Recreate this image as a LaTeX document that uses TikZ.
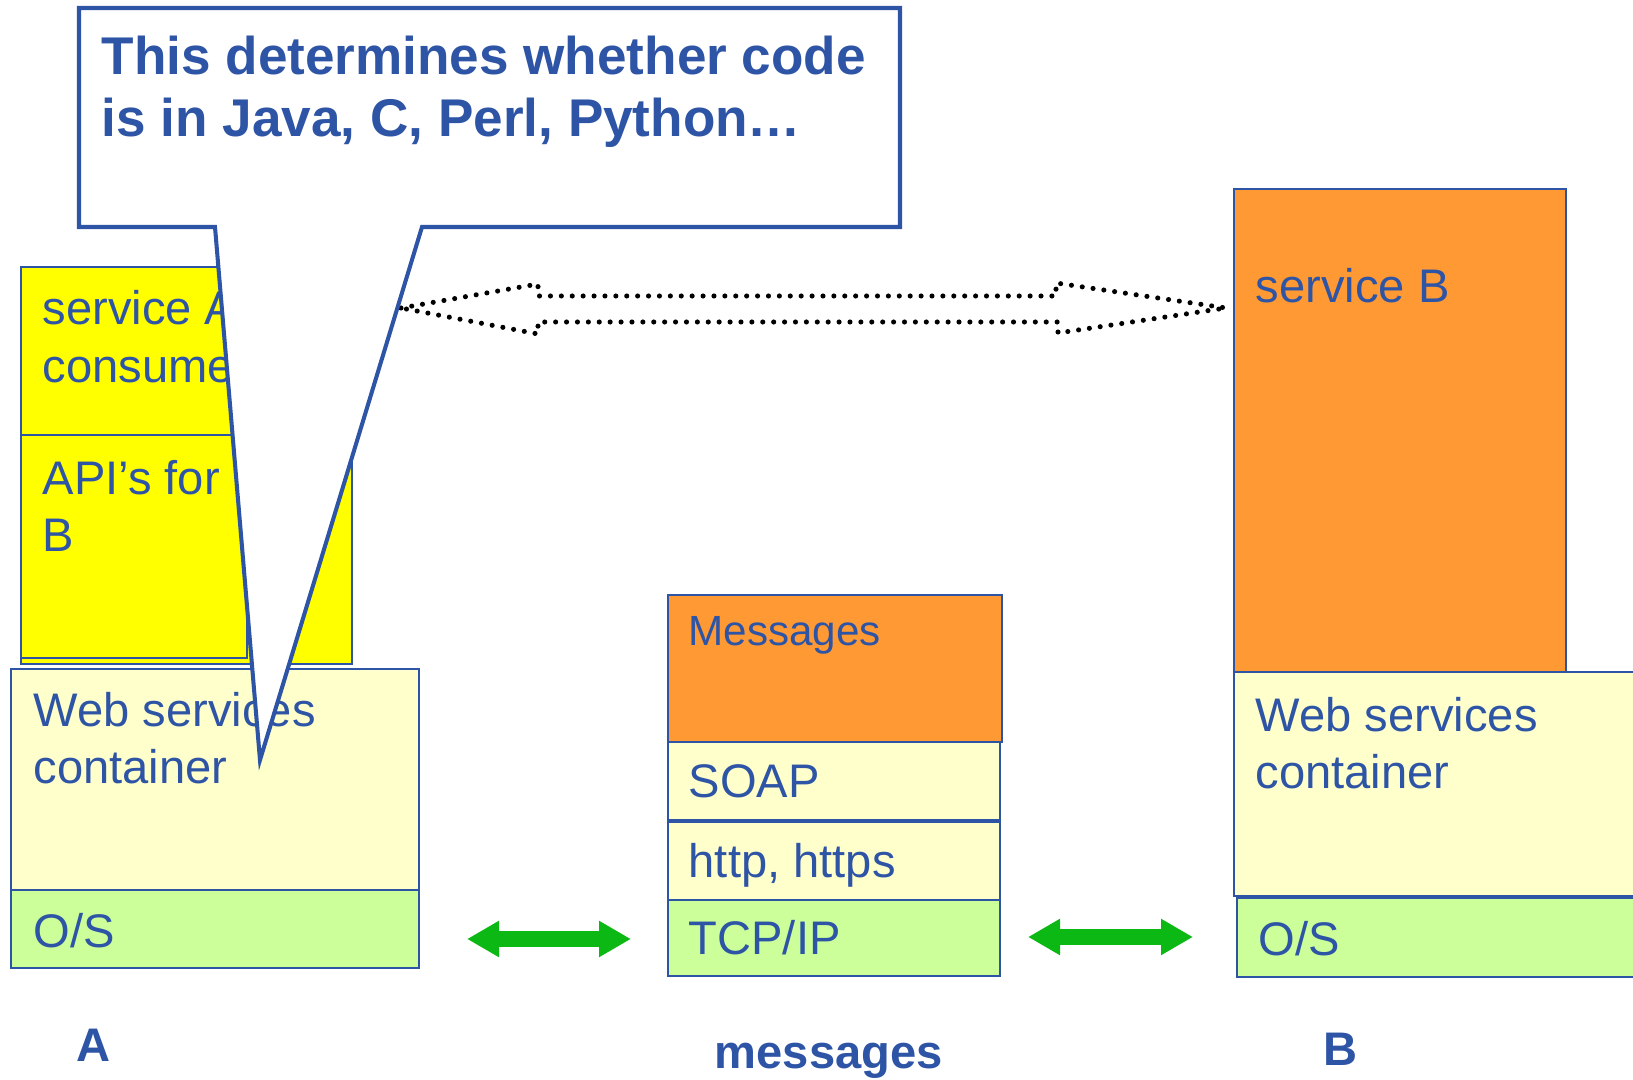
\documentclass[tikz,border=0pt]{standalone}
\usepackage{fontspec}
\setmainfont{Liberation Sans}
\usepackage{xcolor}
\usepackage{tikz}
\usetikzlibrary{arrows.meta}

\definecolor{labelblue}{RGB}{46,84,166}
\definecolor{consumeryellow}{RGB}{255,255,0}
\definecolor{containercream}{RGB}{255,255,204}
\definecolor{osgreen}{RGB}{204,255,153}
\definecolor{serviceorange}{RGB}{255,153,51}
\definecolor{linkgreen}{RGB}{12,185,20}

\begin{document}
\begin{tikzpicture}[x=0.01cm,y=-0.01cm,
  layer/.style={draw=labelblue, line width=0.6pt},
  lbl/.style={anchor=base west, inner sep=0pt, text=labelblue, font=\fontsize{13.4}{16}\selectfont},
  side/.style={anchor=base west, inner sep=0pt, text=labelblue, font=\bfseries\fontsize{13.4}{16}\selectfont},
  link/.style={draw=linkgreen, line width=4.8pt, <->, >={Triangle[length=9.1pt,width=9.7pt]}},
  wire/.style={line width=1.45pt, line cap=round, dash pattern=on 0pt off 3.1pt}]

\useasboundingbox (0,0) rectangle (1633,1080);

% Draw stack A
\filldraw[layer, fill=consumeryellow] (21,267) rectangle (352,664);
\draw[layer] (21,435) -- (352,435);
\draw[layer] (21,435) rectangle (247,658);
\node[lbl] (svcA1) at (42,325) {service A};
\node[lbl] (svcA2) at (42,383) {consumer};
\node[lbl] (apiA1) at (42,495) {API’s for};
\node[lbl] (apiA2) at (42,552) {B};
\filldraw[layer, fill=containercream] (11,669) rectangle (419,890);
\filldraw[layer, fill=osgreen] (11,890) rectangle (419,968);
\node[lbl] (webA1) at (33,727) {Web services};
\node[lbl] (webA2) at (33,784) {container};
\node[lbl] (osA) at (33,948) {O/S};

% Draw message stack
\filldraw[layer, fill=serviceorange] (668,595) rectangle (1002,742);
\filldraw[layer, fill=containercream] (668,742) rectangle (1000,820);
\filldraw[layer, fill=containercream] (668,822) rectangle (1000,900);
\filldraw[layer, fill=osgreen] (668,900) rectangle (1000,976);
\node[lbl, font=\fontsize{12}{14}\selectfont] (msg) at (688,646) {Messages};
\node[lbl] (soap) at (688,798) {SOAP};
\node[lbl] (http) at (688,878) {http, https};
\node[lbl] (tcp) at (688,955) {TCP/IP};

% Draw stack B
\filldraw[layer, fill=serviceorange] (1234,189) rectangle (1566,672);
\filldraw[layer, fill=containercream] (1234,672) rectangle (1645,896);
\filldraw[layer, fill=osgreen] (1237,898) rectangle (1645,977);
\node[lbl] (svcB) at (1255,303) {service B};
\node[lbl] (webB1) at (1255,732) {Web services};
\node[lbl] (webB2) at (1255,789) {container};
\node[lbl] (osB) at (1258,956) {O/S};

% Dotted double arrow between services
\draw[wire] (401,308) -- (538,284) -- (538,296) -- (1056,296) -- (1056,283)
  -- (1226,308) -- (1058,333) -- (1058,322) -- (538,322) -- (538,334) -- cycle;

% Green links
\coordinate (linkA1) at (467,939);
\coordinate (linkA2) at (631,939);
\coordinate (linkB1) at (1028,937);
\coordinate (linkB2) at (1193,937);
\draw[link] (linkA1) -- (linkA2);
\draw[link] (linkB1) -- (linkB2);

% Callout
\filldraw[draw=labelblue, fill=white, line width=1.15pt, line join=miter]
  (79,8) -- (900,8) -- (900,227) -- (422,227) -- (260,760) -- (215,227) -- (79,227) -- cycle;
\node[anchor=base west, inner sep=0pt, text=labelblue, font=\bfseries\fontsize{15.1}{17.8}\selectfont] (note1) at (101,75) {This determines whether code};
\node[anchor=base west, inner sep=0pt, text=labelblue, font=\bfseries\fontsize{15.1}{17.8}\selectfont] (note2) at (101,137) {is in Java, C, Perl, Python…};

% Side labels
\node[side] (sideA) at (76,1062) {A};
\node[side] (sideM) at (714,1069) {messages};
\node[side] (sideB) at (1323,1066) {B};

\end{tikzpicture}
\end{document}
